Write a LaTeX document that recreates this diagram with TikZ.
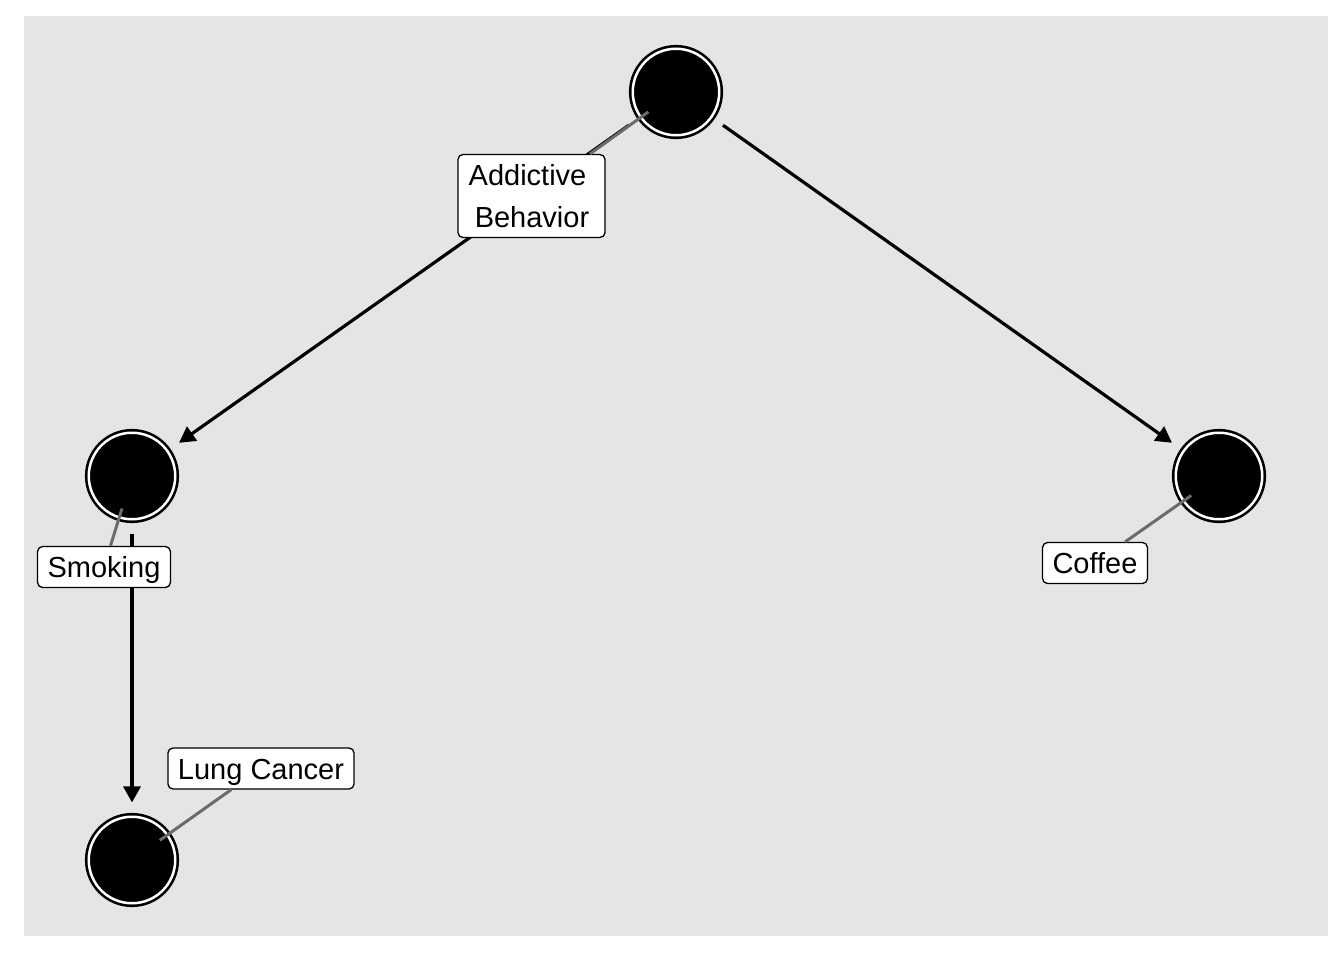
\documentclass[tikz,border=0pt]{standalone}
\usepackage{fontspec}
\setmainfont{Liberation Sans}
\usetikzlibrary{calc,arrows.meta}
\begin{document}
\begin{tikzpicture}[x=1pt,y=-1pt,
  dagnode/.style={circle,draw=black,double=white,double distance=2.5pt,line width=2.6pt,fill=black,inner sep=0pt,minimum size=86.5pt},
  edge/.style={line width=3.2pt,-{Triangle[length=16pt,width=17pt]},shorten <=13pt,shorten >=13pt},
  lbl/.style={draw=black,line width=1.3pt,fill=white,rounded corners=5pt,inner xsep=10pt,inner ysep=7pt,text height=24pt,text depth=3pt,font=\fontsize{29pt}{42pt}\selectfont},
  repel/.style={draw=black!58,line width=3pt}]
\useasboundingbox (0,0) rectangle (1344,960);
\fill[white] (0,0) rectangle (1344,960);
\fill[black!10] (24,16) rectangle (1328,936);
% nodes
\node[dagnode] (ab) at (676,92) {};
\node[dagnode] (sm) at (132,476) {};
\node[dagnode] (co) at (1219,476) {};
\node[dagnode] (lc) at (132,860) {};
% edges
\draw[edge] (ab) -- (sm);
\draw[edge] (ab) -- (co);
\draw[edge] (sm) -- (lc);
% labels
\node[lbl,align=center,text height=,text depth=,minimum width=147pt,minimum height=83pt] (abl) at (531.5,196) {Addictive\hspace*{8pt}\\\hspace*{1pt}Behavior};
\node[lbl] (sml) at (104,567) {Smoking};
\node[lbl] (col) at (1095,563) {Coffee};
\node[lbl] (lcl) at (261,768.5) {Lung Cancer};
% repel segments
\draw[repel] ($(ab)!34pt!(abl)$) -- (abl);
\draw[repel] ($(sm)!34pt!(sml)$) -- (sml);
\draw[repel] ($(co)!34pt!(col)$) -- (col);
\draw[repel] ($(lc)!34pt!(lcl)$) -- (lcl);
\end{tikzpicture}
\end{document}
